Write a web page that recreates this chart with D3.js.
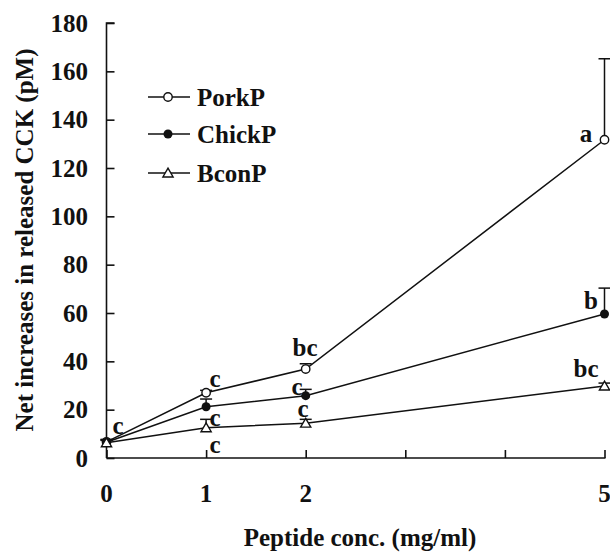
<!DOCTYPE html>
<html><head><meta charset="utf-8">
<script src="https://cdn.jsdelivr.net/npm/d3@7"></script>
<style>body{margin:0;background:#fff}svg{display:block}</style>
</head><body><svg id="c" width="610" height="553"></svg>
<script>
const concs = [0, 1, 2, 5];
const xTickValues = [0, 1, 2, 3, 4, 5];
const xTickLabels = ["0", "1", "2", "", "", "5"];
const yTicks = [0, 20, 40, 60, 80, 100, 120, 140, 160, 180];
const seriesNames = ["PorkP", "ChickP", "BconP"];
const porkP = [6.7, 27.0, 36.8, 131.7];
const porkErr = [1.0, 1.0, 2.2, 33.5];
const chickP = [6.5, 21.2, 25.8, 59.6];
const chickErr = [1.0, 3.2, 2.6, 10.7];
const bconP = [6.3, 12.5, 14.4, 29.8];
const bconErr = [1.0, 3.5, 1.6, 1.2];
const letters = [
  ["c", "c", "bc", "a"],
  ["", "c", "c", "b"],
  ["", "c", "c", "bc"]
];

const svg = d3.select("#c");
const x = d3.scaleLinear().domain([0, 5]).range([106.5, 604.5]);
const y = d3.scaleLinear().domain([0, 180]).range([458, 23]);
const FS = 25;

// axes
const yAxis = d3.axisRight(y).tickValues(yTicks).tickSize(8).tickFormat("");
const gy = svg.append("g").attr("transform", `translate(${x(0)},0)`).call(yAxis);
gy.select(".domain").attr("d", `M8,${y(180)}H0V${y(0)}`);
const xAxis = d3.axisTop(x).tickValues(xTickValues).tickSize(8).tickFormat("");
const gx = svg.append("g").attr("transform", `translate(0,${y(0)})`).call(xAxis);
gx.select(".domain").attr("d", `M${x(0)},0H${x(5)+1}`);
svg.selectAll(".domain, .tick line").attr("stroke", "#111").attr("stroke-width", 1.6);

function txt(sel) {
  return sel.attr("font-family", "'Liberation Serif', 'Times New Roman', serif").attr("font-weight", "bold").attr("fill", "#111").attr("font-size", FS);
}

txt(svg.append("g").selectAll("text").data(yTicks).join("text"))
  .attr("x", 88).attr("y", d => y(d)).attr("dy", "0.35em")
  .attr("text-anchor", "end").text(d => d);
txt(svg.append("g").selectAll("text").data(xTickValues).join("text"))
  .attr("x", d => x(d)).attr("y", 493).attr("dy", "0.35em")
  .attr("text-anchor", "middle").text((d, i) => xTickLabels[i]);

txt(svg.append("text")).attr("transform", "translate(33,240) rotate(-90)")
  .attr("text-anchor", "middle").text("Net increases in released CCK (pM)");
txt(svg.append("text")).attr("x", 360).attr("y", 546)
  .attr("text-anchor", "middle").text("Peptide conc. (mg/ml)");

const series = [
  {vals: porkP, err: porkErr, marker: "open"},
  {vals: chickP, err: chickErr, marker: "filled"},
  {vals: bconP, err: bconErr, marker: "tri"}
];
const line = d3.line().x((d, i) => x(concs[i])).y(d => y(d));
const tri = d3.symbol().type(d3.symbolTriangle).size(45);

function drawMarker(g, type, cx, cy) {
  if (type === "open") g.append("circle").attr("cx", cx).attr("cy", cy).attr("r", 4.2).attr("fill", "#fff").attr("stroke", "#111").attr("stroke-width", 1.4);
  else if (type === "filled") g.append("circle").attr("cx", cx).attr("cy", cy).attr("r", 4.5).attr("fill", "#111");
  else g.append("path").attr("d", tri()).attr("transform", `translate(${cx},${cy+1})`).attr("fill", "#fff").attr("stroke", "#111").attr("stroke-width", 1.4);
}

series.forEach((s, si) => {
  const g = svg.append("g");
  g.append("path").attr("d", line(s.vals)).attr("fill", "none").attr("stroke", "#111").attr("stroke-width", 1.5);
  s.vals.forEach((v, i) => {
    const cx = x(concs[i]);
    g.append("line").attr("x1", cx).attr("x2", cx).attr("y1", y(v)).attr("y2", y(v + s.err[i])).attr("stroke", "#111").attr("stroke-width", 1.5);
    g.append("line").attr("x1", cx - 6).attr("x2", cx + 6).attr("y1", y(v + s.err[i])).attr("y2", y(v + s.err[i])).attr("stroke", "#111").attr("stroke-width", 1.5);
  });
  s.vals.forEach((v, i) => drawMarker(g, s.marker, x(concs[i]), y(v)));
});

// significance letters
const letterPos = [
  [[118, 425], [215, 378], [305, 347], [586, 133]],
  [null, [215, 417], [297, 386], [591, 300]],
  [null, [215, 444], [303, 408], [586, 368]]
];
letters.forEach((row, si) => row.forEach((t, i) => {
  if (!t) return;
  const p = letterPos[si][i];
  txt(svg.append("text")).attr("x", p[0]).attr("y", p[1]).attr("dy", "0.35em")
    .attr("text-anchor", "middle").text(t);
}));

// legend
const legY = [97, 134, 173];
const types = ["open", "filled", "tri"];
seriesNames.forEach((n, i) => {
  const g = svg.append("g");
  g.append("line").attr("x1", 148).attr("x2", 190).attr("y1", legY[i]).attr("y2", legY[i]).attr("stroke", "#111").attr("stroke-width", 1.5);
  drawMarker(g, types[i], 168, legY[i]);
  txt(g.append("text")).attr("x", 197).attr("y", legY[i]).attr("dy", "0.35em").text(n);
});
</script></body></html>
